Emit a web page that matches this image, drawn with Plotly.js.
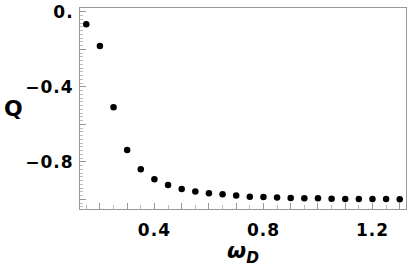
<!DOCTYPE html>
<html>
<head>
<meta charset="utf-8">
<script src="https://cdn.plot.ly/plotly-3.0.1.min.js"></script>
<style>
html,body{margin:0;padding:0;background:#fff;}
#chart{width:407px;height:270px;}
.xtick text,.ytick text{letter-spacing:1px;}
</style>
</head>
<body>
<div id="chart"></div>
<script>
var omegaD = [0.15,0.20,0.25,0.30,0.35,0.40,0.45,0.50,0.55,0.60,0.65,0.70,0.75,0.80,0.85,0.90,0.95,1.00,1.05,1.10,1.15,1.20,1.25,1.30];
var Q = [-0.066,-0.181,-0.508,-0.736,-0.839,-0.892,-0.923,-0.944,-0.958,-0.967,-0.972,-0.979,-0.985,-0.987,-0.990,-0.992,-0.994,-0.994,-0.996,-0.997,-0.997,-0.997,-0.998,-0.999];
var xTickVals = [0.2,0.3,0.4,0.5,0.6,0.7,0.8,0.9,1.0,1.1,1.2,1.3];
var xTickText = ["","","0.4","","","","0.8","","","","1.2",""];
var yTickVals = [0,-0.2,-0.4,-0.6,-0.8,-1.0];
var yTickText = ["0.","","\u22120.4","","\u22120.8",""];

var tickFont = {family:"DejaVu Sans", size:17, color:"#000", weight:"bold"};

var trace = {
  x: omegaD, y: Q, type:"scatter", mode:"markers",
  marker:{color:"#000", size:6.5}
};

var layout = {
  width:407, height:270,
  margin:{l:80, r:1, t:8, b:61},
  paper_bgcolor:"#fff", plot_bgcolor:"#fff",
  showlegend:false,
  xaxis:{
    range:[0.127,1.323], showgrid:false, zeroline:false,
    showline:true, linecolor:"#999", linewidth:1, mirror:true,
    tickmode:"array", tickvals:xTickVals, ticktext:xTickText,
    ticks:"inside", ticklen:6, tickcolor:"#999", tickwidth:1,
    minor:{dtick:0.05, tick0:0, ticks:"inside", ticklen:4, tickcolor:"#bbb", showgrid:false},
    tickfont:tickFont, ticklabelstandoff:6
  },
  yaxis:{
    range:[-1.051,0.021], showgrid:false, zeroline:false,
    showline:true, linecolor:"#999", linewidth:1, mirror:true,
    tickmode:"array", tickvals:yTickVals, ticktext:yTickText,
    ticks:"inside", ticklen:6, tickcolor:"#999", tickwidth:1,
    minor:{dtick:0.02, tick0:0, ticks:"inside", ticklen:3, tickcolor:"#bbb", showgrid:false},
    tickfont:tickFont, ticklabelstandoff:2
  },
  annotations:[
    {text:"<b>Q</b>", xref:"paper", yref:"paper", x:-0.205, y:0.50, xanchor:"center", yanchor:"middle",
     showarrow:false, font:{family:"DejaVu Sans", size:22, color:"#000"}},
    {text:"<b><i>ω</i></b><sub><b><i>D</i></b></sub>", xref:"paper", yref:"paper", x:0.50, y:-0.215, xanchor:"center", yanchor:"middle",
     showarrow:false, font:{family:"DejaVu Sans", size:22, color:"#000"}}
  ]
};

Plotly.newPlot("chart", [trace], layout, {displayModeBar:false, staticPlot:true});
</script>
</body>
</html>
